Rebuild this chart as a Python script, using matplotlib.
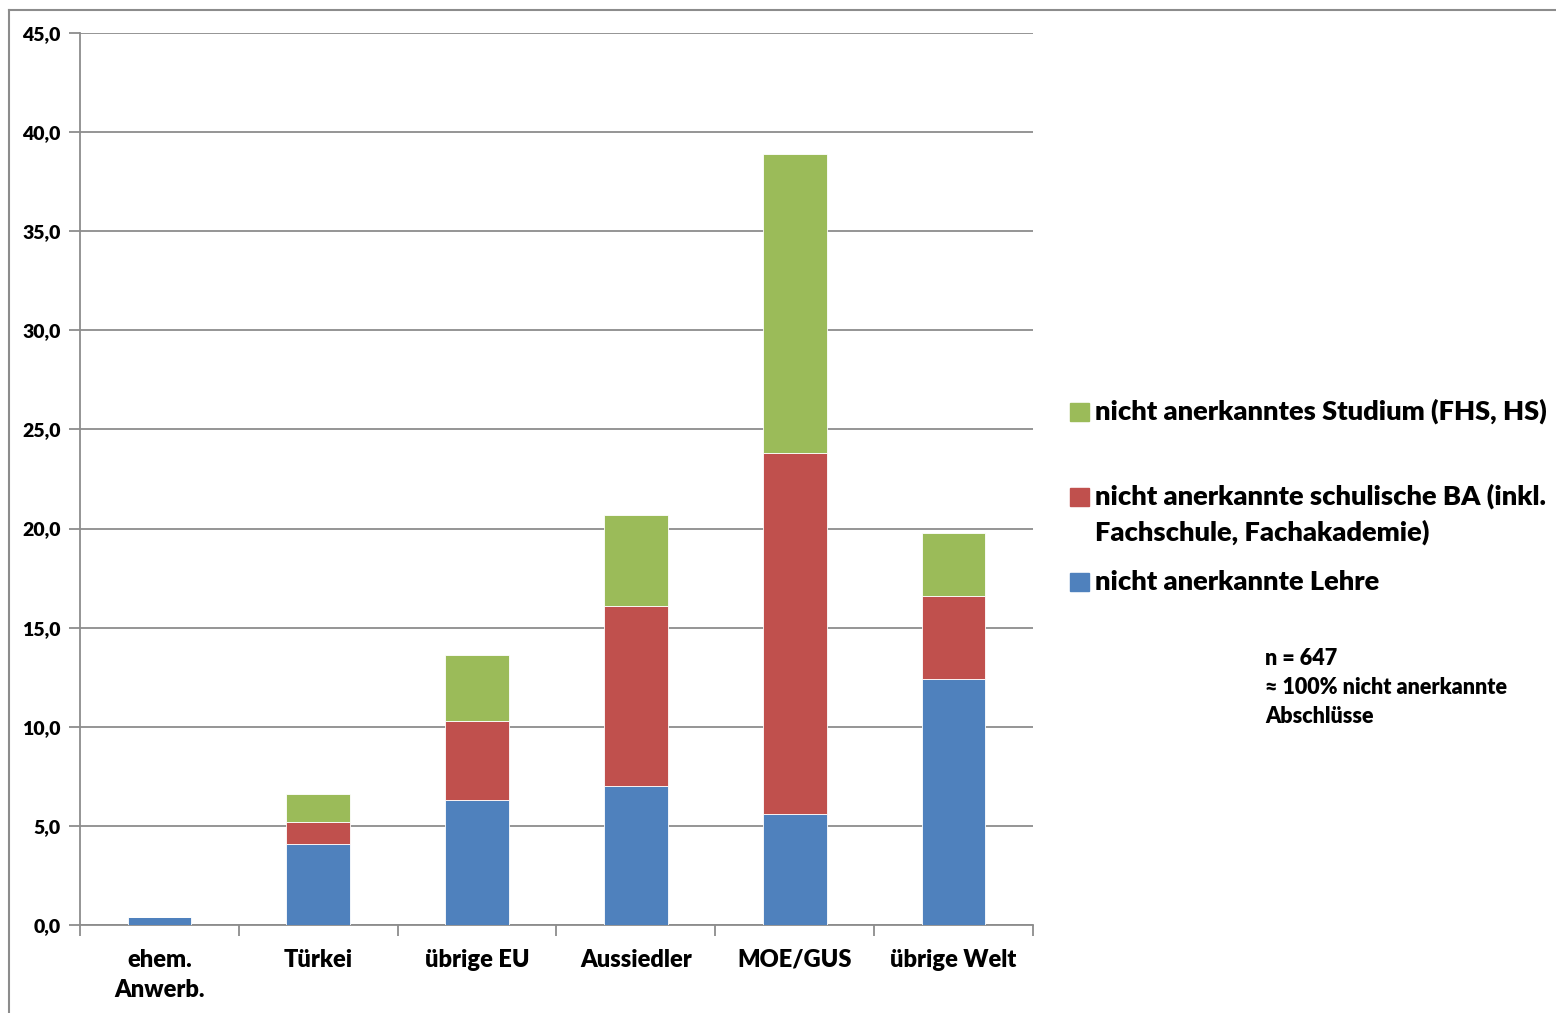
import numpy as np
import matplotlib.pyplot as plt
from matplotlib.patches import Rectangle

plt.rcParams['font.family'] = ['Lato', 'DejaVu Sans']
plt.rcParams['font.weight'] = 'heavy'

# Anteile nicht anerkannter Abschlüsse nach Herkunftsgruppe (%)
kategorien = ["ehem.\nAnwerb.", "Türkei", "übrige EU", "Aussiedler", "MOE/GUS", "übrige Welt"]
lehre = [0.4, 4.1, 6.3, 7.0, 5.6, 12.4]
schulische_ba = [0.0, 1.1, 4.0, 9.1, 18.2, 4.2]
studium = [0.0, 1.4, 3.3, 4.6, 15.1, 3.2]

serien_namen = ["nicht anerkannte Lehre",
                "nicht anerkannte schulische BA (inkl.\nFachschule, Fachakademie)",
                "nicht anerkanntes Studium (FHS, HS)"]
farben = ["#4F81BD", "#C0504D", "#9BBB59"]
hinweis = "n = 647\n≈ 100% nicht anerkannte\nAbschlüsse"

W, H = 1556, 1013
fig = plt.figure(figsize=(W / 100, H / 100), dpi=100)
ax = fig.add_axes([80 / W, 1 - 925 / H, (1033 - 80) / W, (925 - 33) / H])

x = np.arange(len(kategorien))
unten = np.zeros(len(kategorien))
for werte, farbe in zip([lehre, schulische_ba, studium], farben):
    ax.bar(x, werte, width=0.4, bottom=unten, color=farbe, edgecolor="#ffffff",
           linewidth=0.6, zorder=3)
    unten += np.array(werte)

ax.set_xlim(-0.5, len(kategorien) - 0.5)
ax.set_ylim(0, 45)
ax.set_yticks(np.arange(0, 46, 5))
ax.set_yticklabels([f"{v:.1f}".replace(".", ",") for v in np.arange(0, 46, 5)], fontsize=14)
ax.yaxis.grid(True, color="#8c8c8c", linewidth=1.3, zorder=0)

ax.set_xticks(x)
ax.set_xticklabels(kategorien, fontsize=17, linespacing=1.45)
ax.tick_params(axis="x", which="major", length=0, pad=17)
ax.set_xticks(np.arange(-0.5, len(kategorien)), minor=True)
ax.tick_params(axis="x", which="minor", length=8, color="#8c8c8c", width=1.3)
ax.tick_params(axis="y", length=8, color="#8c8c8c", width=1.3, pad=6)

for s in ["top", "right"]:
    ax.spines[s].set_visible(False)
for s in ["left", "bottom"]:
    ax.spines[s].set_color("#8c8c8c")
    ax.spines[s].set_linewidth(1.3)

# äußerer Rahmen
fig.add_artist(plt.Line2D([9 / W, 9 / W], [0, 1 - 10 / H], color="#8c8c8c", linewidth=1.5,
                          transform=fig.transFigure))
fig.add_artist(plt.Line2D([9 / W, 1], [1 - 10 / H, 1 - 10 / H], color="#8c8c8c", linewidth=1.5,
                          transform=fig.transFigure))

# Legende: Quadrat auf Höhe der ersten Zeile, Zeilen einzeln gesetzt
legende_y = [590, 505, 420]
for name, farbe, ly in zip(serien_namen, farben, legende_y):
    fig.add_artist(Rectangle((1070 / W, 1 - (ly + 1) / H), 19 / W, 18 / H,
                             color=farbe, transform=fig.transFigure))
    for i, zeile in enumerate(name.split("\n")):
        fig.text(1095 / W, 1 - (ly + 36 * i) / H, zeile, fontsize=19.6,
                 ha="left", va="baseline")

for i, zeile in enumerate(hinweis.split("\n")):
    fig.text(1265 / W, 1 - (665 + 29 * i) / H, zeile, fontsize=15.5,
             ha="left", va="baseline")

fig.savefig("out.png", dpi=100)
